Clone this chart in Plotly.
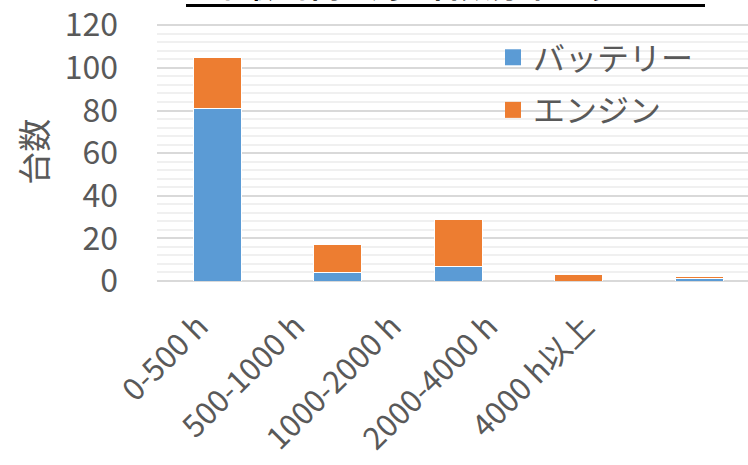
import plotly.graph_objects as go

categories = ["0-500 h", "500-1000 h", "1000-2000 h", "2000-4000 h", "4000 h以上"]
battery = [81, 4, 7, 0, 1]
engine = [24, 13, 22, 3, 1]
series_names = ["バッテリー", "エンジン"]
colors = ["#5B9BD5", "#ED7D31"]
title_text = "稼働時間帯別の台数分布チャート"
y_title = "台数"

FONT = "Noto Sans CJK JP"
GRAY = "#595959"
W, H = 748, 465
Y_MAX = 120.6
L, B, R = 157, 183.7, 0
plot_h = 256 * Y_MAX / 120
T = H - B - plot_h
plot_w = W - L - R

fig = go.Figure()
for vals, name, col in zip([battery, engine], series_names, colors):
    fig.add_trace(go.Bar(x=categories, y=vals, name=name, showlegend=False,
                         marker=dict(color=col, line=dict(color="white", width=1))))
for i, (name, col) in enumerate(zip(series_names, colors)):
    fig.add_trace(go.Scatter(x=[None], y=[None], mode="markers", name=name,
                             legendgroup=f"g{i}",
                             marker=dict(symbol="square", size=20, color=col)))
# invisible trace so the label axis is drawn
fig.add_trace(go.Scatter(x=[None], y=[None], xaxis="x2", showlegend=False, hoverinfo="skip"))

def px_to_paper_y(py):
    return (H - B - py) / plot_h

def px_to_paper_x(px):
    return (px - L) / plot_w

fig.add_annotation(text="<b>" + title_text + "</b>", xref="paper", yref="paper",
                   x=px_to_paper_x(445.5), y=px_to_paper_y(7.8), xanchor="center", yanchor="bottom",
                   showarrow=False, font=dict(family=FONT, size=30, color="black"))
fig.add_shape(type="line", xref="paper", yref="paper",
              x0=px_to_paper_x(186), x1=px_to_paper_x(705),
              y0=px_to_paper_y(5.5), y1=px_to_paper_y(5.5),
              line=dict(color="black", width=3))
fig.add_annotation(text=y_title, xref="paper", yref="paper",
                   x=px_to_paper_x(33), y=px_to_paper_y(152), xanchor="center", yanchor="middle",
                   textangle=-90, showarrow=False, font=dict(family=FONT, size=33, color=GRAY))

# label axis: the reference's category labels sit closer together than the bars
lab_first, lab_step = 199, 96.5
a = -(lab_first - L) / lab_step
b = a + plot_w / lab_step

fig.update_layout(
    width=W, height=H,
    margin=dict(l=L, r=R, t=T, b=B),
    barmode="stack", bargap=0.6,
    plot_bgcolor="white", paper_bgcolor="white",
    font=dict(family=FONT, color=GRAY),
    legend=dict(x=px_to_paper_x(493), y=px_to_paper_y(30), xanchor="left", yanchor="top",
                font=dict(family=FONT, size=32, color=GRAY), bgcolor="rgba(0,0,0,0)",
                traceorder="grouped", tracegroupgap=8),
    xaxis=dict(range=[-0.5, 4.405], showticklabels=False,
               showgrid=False, showline=False, ticks=""),
    xaxis2=dict(overlaying="x", anchor="y", side="bottom", type="linear", range=[a, b],
                tickvals=list(range(len(categories))), ticktext=categories,
                tickangle=-45, tickfont=dict(family=FONT, size=31, color=GRAY),
                showgrid=False, showline=False, zeroline=False, ticks="", ticklabelstandoff=20),
    yaxis=dict(range=[0, Y_MAX], tickvals=[0, 20, 40, 60, 80, 100, 120],
               tickfont=dict(family=FONT, size=32, color=GRAY), ticklabeloverflow="allow",
               showgrid=True, gridcolor="#d9d9d9", gridwidth=1.5, zeroline=True,
               zerolinecolor="#d9d9d9", zerolinewidth=1.5, showline=False,
               ticklabelstandoff=38,
               minor=dict(dtick=4, showgrid=True, gridcolor="#f0f0f0", gridwidth=1.5)),
)

fig.write_html("out.html")
